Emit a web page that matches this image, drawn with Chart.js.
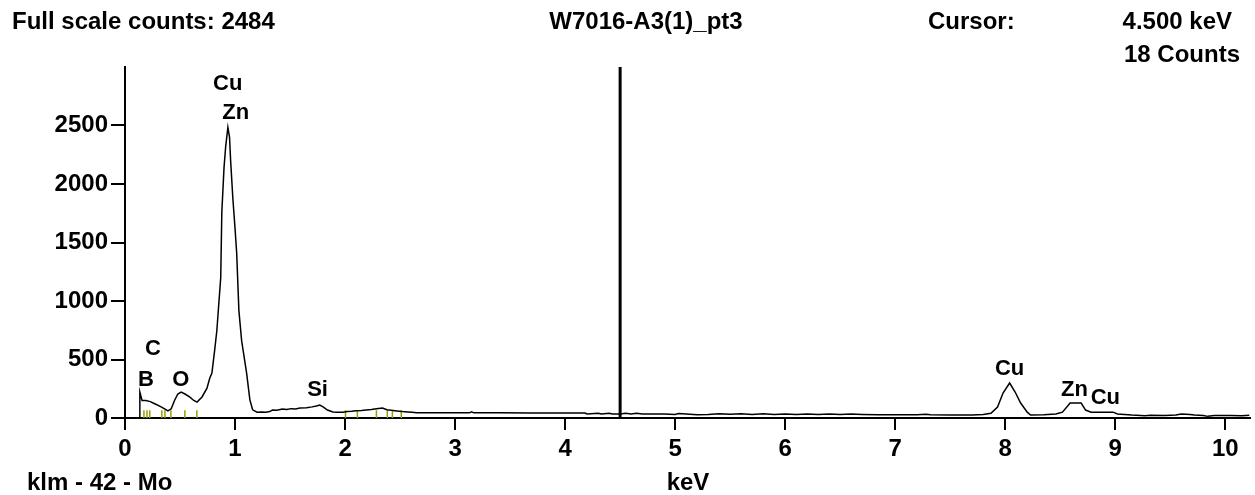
<!DOCTYPE html>
<html>
<head>
<meta charset="utf-8">
<script src="https://cdn.jsdelivr.net/npm/chart.js@4.4.0/dist/chart.umd.min.js"></script>
<style>
  html, body { margin: 0; padding: 0; background: #fff; }
  #wrap { position: relative; width: 1255px; height: 495px; }
</style>
</head>
<body>
<div id="wrap"><canvas id="spec" width="1255" height="495"></canvas></div>
<script>
/* ─── EDS spectrum W7016-A3(1)_pt3 ───────────────────────────── */

// energy (keV) / counts
const energies = [
  0, 0.13, 0.135, 0.155, 0.19, 0.23, 0.27, 0.32, 0.36, 0.39,
  0.42, 0.45, 0.48, 0.51, 0.545, 0.59, 0.625, 0.655, 0.70, 0.745,
  0.77, 0.79, 0.815, 0.835, 0.845, 0.87, 0.88, 0.90, 0.915, 0.935,
  0.95, 0.96, 0.98, 1.00, 1.015, 1.035, 1.06, 1.07, 1.105, 1.135,
  1.16, 1.20, 1.24, 1.28, 1.315, 1.34, 1.38, 1.43, 1.47, 1.51,
  1.55, 1.59, 1.65, 1.70, 1.74, 1.77, 1.80, 1.84, 1.89, 1.93,
  1.98, 2.02, 2.06, 2.10, 2.15, 2.19, 2.24, 2.285, 2.34, 2.38,
  2.42, 2.47, 2.52, 2.57, 2.61, 2.65, 2.8, 3.0, 3.13, 3.15,
  3.17, 3.4, 3.7, 4.0, 4.18, 4.2, 4.3, 4.33, 4.4, 4.43,
  4.5, 4.55, 4.6, 4.65, 4.7, 4.8, 4.9, 5.0, 5.03, 5.1,
  5.2, 5.3, 5.4, 5.5, 5.6, 5.7, 5.8, 5.9, 6.0, 6.1,
  6.2, 6.3, 6.4, 6.5, 6.6, 6.7, 6.85, 7.0, 7.2, 7.28,
  7.32, 7.5, 7.7, 7.8, 7.87, 7.93, 7.98, 8.04, 8.09, 8.14,
  8.20, 8.23, 8.35, 8.46, 8.52, 8.59, 8.69, 8.73, 8.78, 8.9,
  8.98, 9.02, 9.15, 9.27, 9.32, 9.45, 9.55, 9.6, 9.68, 9.72,
  9.8, 9.84, 9.9, 10.05, 10.15, 10.22
];
const counts = [
  0, 0, 222, 150, 150, 140, 122, 100, 78, 60,
  78, 150, 205, 222, 205, 178, 150, 136, 180, 255,
  340, 385, 580, 750, 880, 1200, 1760, 2140, 2320, 2484,
  2400, 2200, 1880, 1620, 1410, 920, 660, 600, 385, 155,
  70, 50, 52, 50, 55, 68, 66, 77, 72, 80,
  78, 85, 88, 95, 103, 111, 95, 68, 52, 50,
  50, 55, 58, 62, 64, 68, 72, 80, 85, 70,
  66, 60, 55, 52, 50, 45, 45, 44, 44, 52,
  44, 44, 43, 43, 43, 34, 40, 34, 40, 34,
  34, 40, 34, 40, 34, 34, 34, 30, 38, 34,
  28, 30, 36, 32, 36, 30, 36, 30, 34, 30,
  35, 30, 34, 29, 34, 30, 27, 27, 27, 33,
  27, 26, 26, 30, 40, 94, 213, 299, 222, 128,
  50, 26, 28, 34, 50, 128, 128, 68, 50, 50,
  50, 34, 25, 20, 24, 22, 25, 34, 30, 25,
  22, 14, 22, 22, 20, 24
];

// klm line markers (Mo)
const markerEnergies = [0.172, 0.2, 0.225, 0.335, 0.363, 0.417, 0.544, 0.653,
                        2.004, 2.112, 2.285, 2.384, 2.43, 2.511];

// peak labels: name, energy, count level of the label
const peakNames  = ['Cu', 'Zn', 'C', 'B', 'O', 'Si', 'Cu', 'Zn', 'Cu'];
const peakEnergy = [0.934, 1.006, 0.254, 0.19, 0.508, 1.75, 8.04, 8.63, 8.91];
const peakLevel  = [2855, 2606, 590, 325, 325, 240, 418, 240, 170];

const xTicks = [0, 1, 2, 3, 4, 5, 6, 7, 8, 9, 10];
const yTicks = [0, 500, 1000, 1500, 2000, 2500];

const fullScale    = 2484;
const cursorKeV    = 4.5;
const cursorCounts = 18;
const sampleName   = 'W7016-A3(1)_pt3';

const FONT = '"Liberation Sans", Arial, sans-serif';

const textPlugin = {
  id: 'eds-text',
  afterDraw(chart) {
    const { ctx, scales: { x, y } } = chart;
    ctx.save();
    ctx.fillStyle = '#000';
    ctx.textBaseline = 'middle';
    ctx.font = `bold 24px ${FONT}`;

    ctx.textAlign = 'left';
    ctx.fillText('Full scale counts: ' + fullScale, 12, 22);
    ctx.fillText('Cursor:', 928, 22);
    ctx.fillText('klm - 42 - Mo', 27, 483);

    ctx.textAlign = 'center';
    ctx.fillText(sampleName, 646, 22);
    ctx.fillText('keV', 688, 483);

    ctx.textAlign = 'right';
    ctx.fillText(cursorKeV.toFixed(3) + ' keV', 1232, 22);
    ctx.fillText(cursorCounts + ' Counts', 1240, 55);

    ctx.textAlign = 'center';
    ctx.font = `bold 22px ${FONT}`;
    peakNames.forEach((n, i) => {
      ctx.fillText(n, x.getPixelForValue(peakEnergy[i]), y.getPixelForValue(peakLevel[i]));
    });
    ctx.restore();
  }
};

const axisFont = { family: FONT, size: 24, weight: 'bold' };

new Chart(document.getElementById('spec'), {
  type: 'scatter',
  data: {
    datasets: [
      {
        data: energies.map((e, i) => ({ x: e, y: counts[i] })),
        showLine: true,
        borderColor: '#000',
        borderWidth: 1.5,
        pointRadius: 0,
        tension: 0,
      },
      {
        data: [{ x: cursorKeV, y: 0 }, { x: cursorKeV, y: 3000 }],
        showLine: true,
        borderColor: '#000',
        borderWidth: 3,
        pointRadius: 0,
      },
      {
        data: markerEnergies.map(e => ({ x: e, y: 32 })),
        showLine: false,
        pointStyle: 'line',
        rotation: 90,
        radius: 4,
        borderColor: '#9c9c00',
        borderWidth: 1.5,
      }
    ]
  },
  options: {
    responsive: false,
    animation: false,
    layout: { padding: { top: 67, right: 3, left: 0, bottom: 0 } },
    plugins: { legend: { display: false }, tooltip: { enabled: false } },
    scales: {
      x: {
        type: 'linear',
        min: 0,
        max: 10.22,
        afterBuildTicks: s => { s.ticks = xTicks.map(v => ({ value: v })); },
        afterFit: s => { s.height = 77; },
        grid: { display: true, drawOnChartArea: false, drawTicks: true, tickLength: 12, color: '#000', lineWidth: 2 },
        border: { display: true, color: '#000', width: 2 },
        ticks: { font: axisFont, color: '#000', padding: 5, maxRotation: 0, callback: v => String(v) }
      },
      y: {
        min: 0,
        max: 3000,
        afterBuildTicks: s => { s.ticks = yTicks.map(v => ({ value: v })); },
        afterFit: s => { s.width = 125; },
        grid: { display: true, drawOnChartArea: false, drawTicks: true, tickLength: 14, color: '#000', lineWidth: 2 },
        border: { display: true, color: '#000', width: 2 },
        ticks: { font: axisFont, color: '#000', padding: 3, callback: v => String(v) }
      }
    }
  },
  plugins: [textPlugin]
});
</script>
</body>
</html>
